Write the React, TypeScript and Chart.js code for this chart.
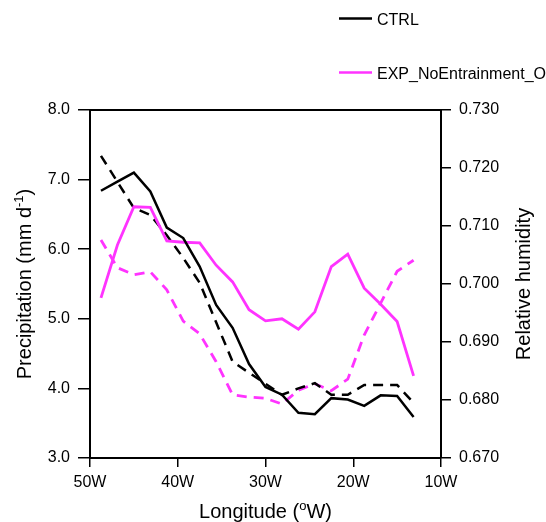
import React, { useEffect, useRef } from 'react';
import { Chart, registerables } from 'chart.js';

Chart.register(...registerables);

// Longitude (degrees, negative = west)
const longitudes = [-48.75, -46.875, -45, -43.125, -41.25, -39.375, -37.5, -35.625, -33.75, -31.875, -30, -28.125, -26.25, -24.375, -22.5, -20.625, -18.75, -16.875, -15, -13.125];
// Precipitation (mm/d) - solid lines, left axis
const ctrlPrecip = [6.84, 6.97, 7.10, 6.83, 6.31, 6.16, 5.75, 5.20, 4.87, 4.35, 4.02, 3.91, 3.65, 3.63, 3.86, 3.84, 3.75, 3.90, 3.89, 3.59];
const expPrecip = [5.30, 6.06, 6.61, 6.60, 6.12, 6.10, 6.09, 5.77, 5.53, 5.13, 4.97, 5.00, 4.85, 5.10, 5.75, 5.93, 5.44, 5.21, 4.96, 4.18];
// Relative humidity - dashed lines, right axis
const ctrlRH = [0.7221, 0.7176, 0.7131, 0.7119, 0.7084, 0.7045, 0.7002, 0.6934, 0.6866, 0.6847, 0.6828, 0.6809, 0.6820, 0.6829, 0.6809, 0.6809, 0.6826, 0.6826, 0.6826, 0.6795];
const expRH = [0.7076, 0.7028, 0.7016, 0.7021, 0.6990, 0.6936, 0.6914, 0.6866, 0.6809, 0.6805, 0.6803, 0.6793, 0.6817, 0.6828, 0.6816, 0.6836, 0.6912, 0.6967, 0.7022, 0.7041];

const seriesNames = ['CTRL', 'EXP_NoEntrainment_O'];
const seriesColors = ['#000000', '#ff33ff'];

const FONT = '"Liberation Sans", Arial, Helvetica, sans-serif';

function pts(ys: number[]) {
  return longitudes.map((x, i) => ({ x, y: ys[i] }));
}

type Seg = { t: string; sup?: boolean };

function drawSegs(ctx: CanvasRenderingContext2D, segs: Seg[], size: number, supSize: number, supRaise: number) {
  // draws centred at origin (x), baseline at y=0
  const widths = segs.map((s) => {
    ctx.font = `${s.sup ? supSize : size}px ${FONT}`;
    return ctx.measureText(s.t).width;
  });
  const total = widths.reduce((a, b) => a + b, 0);
  let x = -total / 2;
  segs.forEach((s, i) => {
    ctx.font = `${s.sup ? supSize : size}px ${FONT}`;
    ctx.fillText(s.t, x, s.sup ? -supRaise : 0);
    x += widths[i];
  });
}

const decorPlugin = {
  id: 'decor',
  afterDraw(chart: any) {
    const ctx: CanvasRenderingContext2D = chart.ctx;
    const a = chart.chartArea;
    ctx.save();
    // top border
    ctx.strokeStyle = '#000';
    ctx.lineWidth = 2;
    ctx.beginPath();
    ctx.moveTo(a.left, a.top);
    ctx.lineTo(a.right, a.top);
    ctx.stroke();

    // legend
    const legY = [18.5, 72.5];
    seriesNames.forEach((name, i) => {
      ctx.strokeStyle = seriesColors[i];
      ctx.lineWidth = 2.5;
      ctx.setLineDash([]);
      ctx.beginPath();
      ctx.moveTo(339, legY[i]);
      ctx.lineTo(372, legY[i]);
      ctx.stroke();
      ctx.fillStyle = '#000';
      ctx.font = `16px ${FONT}`;
      ctx.textAlign = 'left';
      ctx.textBaseline = 'alphabetic';
      ctx.fillText(name, 377, legY[i] + 6);
    });

    ctx.fillStyle = '#000';
    ctx.textAlign = 'left';
    ctx.textBaseline = 'alphabetic';
    // x title
    ctx.save();
    ctx.translate((a.left + a.right) / 2, 518);
    drawSegs(ctx, [{ t: 'Longitude (' }, { t: 'o', sup: true }, { t: 'W)' }], 20, 13, 8);
    ctx.restore();

    // left title
    ctx.save();
    ctx.translate(31, (a.top + a.bottom) / 2);
    ctx.rotate(-Math.PI / 2);
    drawSegs(ctx, [{ t: 'Precipitation (mm d' }, { t: '-1', sup: true }, { t: ')' }], 20, 13, 8);
    ctx.restore();

    // right title
    ctx.save();
    ctx.translate(530, (a.top + a.bottom) / 2);
    ctx.rotate(-Math.PI / 2);
    drawSegs(ctx, [{ t: 'Relative humidity' }], 20, 13, 8);
    ctx.restore();

    ctx.restore();
  },
};

export default function App() {
  const ref = useRef<HTMLCanvasElement | null>(null);

  useEffect(() => {
    if (!ref.current) return;
    const tickFont = { family: FONT, size: 16 };
    const gridCommon = {
      display: true,
      drawOnChartArea: false,
      drawTicks: true,
      color: '#000',
      lineWidth: 1.5,
    };
    const chart = new Chart(ref.current, {
      type: 'line',
      data: {
        datasets: [
          {
            label: 'CTRL precip',
            data: pts(ctrlPrecip),
            yAxisID: 'y',
            borderColor: seriesColors[0],
            borderWidth: 2.5,
            pointRadius: 0,
            tension: 0,
          },
          {
            label: 'EXP precip',
            data: pts(expPrecip),
            yAxisID: 'y',
            borderColor: seriesColors[1],
            borderWidth: 2.8,
            pointRadius: 0,
            tension: 0,
          },
          {
            label: 'CTRL RH',
            data: pts(ctrlRH),
            yAxisID: 'y1',
            borderColor: seriesColors[0],
            borderWidth: 2.5,
            borderDash: [10, 7],
            pointRadius: 0,
            tension: 0,
          },
          {
            label: 'EXP RH',
            data: pts(expRH),
            yAxisID: 'y1',
            borderColor: seriesColors[1],
            borderWidth: 2.8,
            borderDash: [10, 7],
            pointRadius: 0,
            tension: 0,
          },
        ],
      },
      options: {
        animation: false,
        responsive: false,
        maintainAspectRatio: false,
        layout: { padding: { top: 110, left: 0, right: 0, bottom: 0 } },
        plugins: { legend: { display: false }, tooltip: { enabled: false } },
        scales: {
          x: {
            type: 'linear',
            position: 'bottom',
            min: -50,
            max: -10,
            ticks: {
              stepSize: 10,
              color: '#000',
              font: tickFont,
              padding: 6,
              maxRotation: 0,
              callback: (v: any) => `${Math.abs(Number(v))}W`,
            },
            grid: { ...gridCommon, tickLength: 9 },
            border: { display: true, color: '#000', width: 2 },
            afterFit: (s: any) => {
              s.height = 64;
            },
          },
          y: {
            type: 'linear',
            position: 'left',
            min: 3,
            max: 8,
            ticks: {
              stepSize: 1,
              color: '#000',
              font: tickFont,
              padding: 8,
              callback: (v: any) => Number(v).toFixed(1),
            },
            grid: { ...gridCommon, tickLength: 12 },
            border: { display: true, color: '#000', width: 2 },
            afterFit: (s: any) => {
              s.width = 90;
            },
          },
          y1: {
            type: 'linear',
            position: 'right',
            min: 0.67,
            max: 0.73,
            ticks: {
              stepSize: 0.01,
              color: '#000',
              font: tickFont,
              padding: 8,
              callback: (v: any) => Number(v).toFixed(3),
            },
            grid: { ...gridCommon, tickLength: 10 },
            border: { display: true, color: '#000', width: 2 },
            afterFit: (s: any) => {
              s.width = 105;
            },
          },
        },
      } as any,
      plugins: [decorPlugin],
    });
    return () => chart.destroy();
  }, []);

  return (
    <div style={{ position: 'absolute', left: 0, top: 0, width: 546, height: 522, background: '#fff' }}>
      <canvas ref={ref} width={546} height={522} style={{ display: 'block', width: 546, height: 522 }} />
    </div>
  );
}
